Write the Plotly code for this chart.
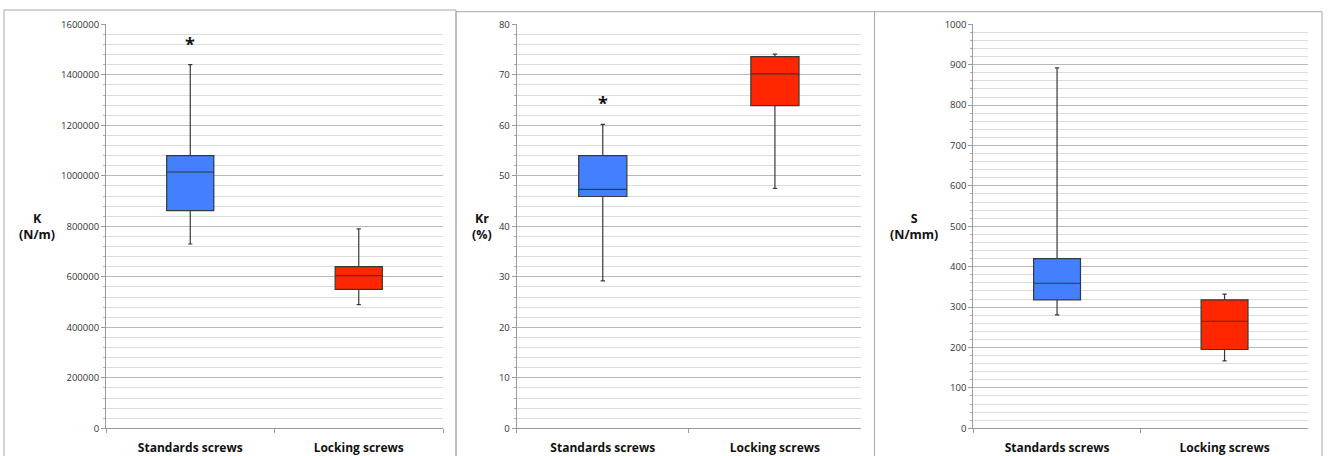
import plotly.graph_objects as go

categories = ["Standards screws", "Locking screws"]

# Panel K (N/m)
k_q1 = [862000, 550000]
k_median = [1015000, 605000]
k_q3 = [1080000, 640000]
k_low = [730000, 490000]
k_high = [1440000, 790000]
k_star = 1530000

# Panel Kr (%)
kr_q1 = [45.9, 63.9]
kr_median = [47.3, 70.2]
kr_q3 = [54.0, 73.6]
kr_low = [29.2, 47.5]
kr_high = [60.2, 74.1]
kr_star = 64.8

# Panel S (N/mm)
s_q1 = [318, 195]
s_median = [359, 265]
s_q3 = [420, 318]
s_low = [281, 167]
s_high = [892, 332]

box_colors = ["#4380FF", "#FF2600"]
W, H = 1328, 456

panels = [
    dict(q1=k_q1, med=k_median, q3=k_q3, lo=k_low, hi=k_high, star=k_star,
         rng=[0, 1600000], dtick=200000, minor=40000, title="K<br>(N/m)",
         xd=(106, 443), title_x=37),
    dict(q1=kr_q1, med=kr_median, q3=kr_q3, lo=kr_low, hi=kr_high, star=kr_star,
         rng=[0, 80], dtick=10, minor=2, title="Kr<br>(%)",
         xd=(516.7, 861), title_x=481.7),
    dict(q1=s_q1, med=s_median, q3=s_q3, lo=s_low, hi=s_high, star=None,
         rng=[0, 1000], dtick=100, minor=20, title="S<br>(N/mm)",
         xd=(973.3, 1308.3), title_x=914.3),
]

fig = go.Figure()
ydom = [1 - 428.3 / H, 1 - 24.3 / H]
annotations = []
for i, p in enumerate(panels):
    sfx = "" if i == 0 else str(i + 1)
    for j, cat in enumerate(categories):
        fig.add_trace(go.Box(
            x=[cat], q1=[p["q1"][j]], median=[p["med"][j]], q3=[p["q3"][j]],
            lowerfence=[p["lo"][j]], upperfence=[p["hi"][j]],
            fillcolor=box_colors[j], line=dict(color="#383838", width=1.2),
            whiskerwidth=0.09, boxpoints=False, showlegend=False,
            xaxis="x" + sfx, yaxis="y" + sfx,
        ))
    if p["star"] is not None:
        annotations.append(dict(
            x=categories[0], y=p["star"], xref="x" + sfx, yref="y" + sfx,
            text="<b>*</b>", showarrow=False, yshift=-2,
            xanchor="center", yanchor="middle",
            font=dict(size=18, color="#111", family="Open Sans"),
        ))
    annotations.append(dict(
        x=p["title_x"] / W, y=1 - 227 / H, xref="paper", yref="paper",
        xanchor="center", yanchor="middle",
        text="<b>" + p["title"] + "</b>", showarrow=False, align="center",
        font=dict(size=12.5, color="#111", family="Open Sans"),
    ))
    fig.layout["xaxis" + sfx] = dict(
        domain=[p["xd"][0] / W, p["xd"][1] / W], anchor="y" + sfx,
        type="category", categoryorder="array", categoryarray=categories,
        range=[-0.5, 1.5], showgrid=False, showline=True, linecolor="#9a9a9a",
        linewidth=1, ticks="outside", ticklen=4, tickcolor="#9a9a9a",
        tickson="boundaries", ticklabelstandoff=8, automargin=False,
        tickfont=dict(size=12, color="#111", family="Open Sans"),
        tickprefix="<b>", ticksuffix="</b>", zeroline=False,
    )
    fig.layout["yaxis" + sfx] = dict(
        domain=ydom, anchor="x" + sfx, range=p["rng"], dtick=p["dtick"],
        tick0=0, tickformat="d", showgrid=True, gridcolor="#b8b8b8",
        gridwidth=1, showline=True, linecolor="#9a9a9a", linewidth=1,
        ticks="outside", ticklen=4, tickcolor="#9a9a9a", zeroline=False,
        automargin=False,
        tickfont=dict(size=9.5, color="#333", family="Open Sans"),
        minor=dict(dtick=p["minor"], tick0=0, showgrid=True,
                   gridcolor="#dcdcdc", gridwidth=1, ticks="outside",
                   ticklen=2, tickcolor="#b0b0b0"),
    )

# Panel frames
frames = [(4, 10, 456), (456, 11.7, 874.5), (874.5, 11.7, 1322)]
shapes = []
for x0, ytop, x1 in frames:
    shapes.append(dict(type="line", xref="paper", yref="paper",
                       x0=x0 / W, x1=x0 / W, y0=-0.05, y1=1 - ytop / H,
                       line=dict(color="#a8a8a8", width=1)))
    shapes.append(dict(type="line", xref="paper", yref="paper",
                       x0=x0 / W, x1=x1 / W, y0=1 - ytop / H, y1=1 - ytop / H,
                       line=dict(color="#a8a8a8", width=1)))
    shapes.append(dict(type="line", xref="paper", yref="paper",
                       x0=x1 / W, x1=x1 / W, y0=-0.05, y1=1 - ytop / H,
                       line=dict(color="#a8a8a8", width=1)))

fig.update_layout(
    width=W, height=H, margin=dict(l=0, r=0, t=0, b=0, autoexpand=False),
    paper_bgcolor="white", plot_bgcolor="white",
    boxmode="overlay", boxgap=0.6, annotations=annotations, shapes=shapes,
    font=dict(family="Open Sans"),
)
fig.write_html(
    "out.html",
    config={"displayModeBar": False},
    post_script="document.body.style.margin='0';document.body.style.overflow='hidden';",
)
